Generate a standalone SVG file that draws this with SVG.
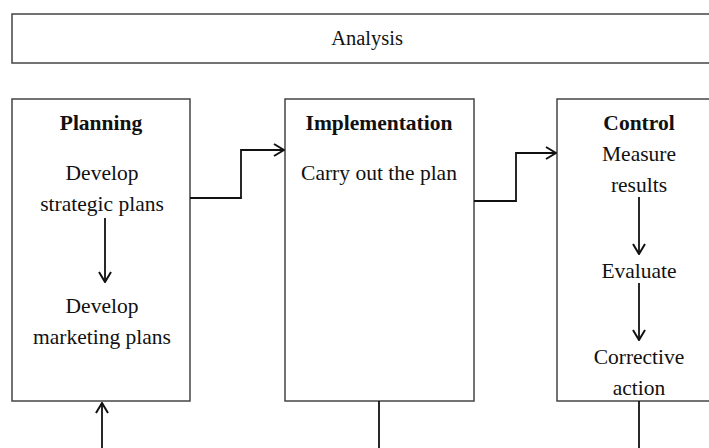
<svg xmlns="http://www.w3.org/2000/svg" width="709" height="448" viewBox="0 0 709 448">
<style>
.box{fill:#fff;stroke:#444;stroke-width:1.5}
.t{font-family:"Liberation Serif","Times New Roman",serif;font-size:21.5px;fill:#111;text-anchor:middle}
.a{font-size:20.5px}
.h{font-weight:bold}
.c{fill:none;stroke:#111;stroke-width:1.8}
</style>
<defs>
<marker id="arr" viewBox="0 0 14 14" refX="13" refY="7" markerWidth="14" markerHeight="14" markerUnits="userSpaceOnUse" orient="auto">
<path d="M3,1 L13,7 L3,13" fill="none" stroke="#111" stroke-width="2"/>
</marker>
</defs>
<g id="analysis">
<rect class="box" x="12" y="14" width="710" height="49"/>
<text class="t a" x="367" y="45">Analysis</text>
</g>
<g id="planning">
<rect class="box" x="12" y="99" width="178" height="302"/>
<text class="t h" x="101" y="130">Planning</text>
<text class="t" x="102" y="180">Develop</text>
<text class="t" x="102" y="211">strategic plans</text>
<text class="t" x="102" y="313">Develop</text>
<text class="t" x="102" y="344">marketing plans</text>
</g>
<g id="implementation">
<rect class="box" x="285" y="99" width="189" height="302"/>
<text class="t h" x="379" y="130">Implementation</text>
<text class="t" x="379" y="180">Carry out the plan</text>
</g>
<g id="control">
<rect class="box" x="557" y="99" width="170" height="302"/>
<text class="t h" x="639" y="130">Control</text>
<text class="t" x="639" y="161">Measure</text>
<text class="t" x="639" y="192">results</text>
<text class="t" x="639" y="278">Evaluate</text>
<text class="t" x="639" y="364">Corrective</text>
<text class="t" x="639" y="395">action</text>
</g>
<g id="connectors">
<path class="c" d="M190,198 H241 V150 H284" marker-end="url(#arr)"/>
<path class="c" d="M474,201 H516 V153 H556" marker-end="url(#arr)"/>
<path class="c" d="M105,218 V282" marker-end="url(#arr)"/>
<path class="c" d="M102,448 V403" marker-end="url(#arr)"/>
<path class="c" d="M379,401 V448"/>
<path class="c" d="M639,197 V254" marker-end="url(#arr)"/>
<path class="c" d="M639,283 V340" marker-end="url(#arr)"/>
<path class="c" d="M639,401 V448"/>
</g>
</svg>
